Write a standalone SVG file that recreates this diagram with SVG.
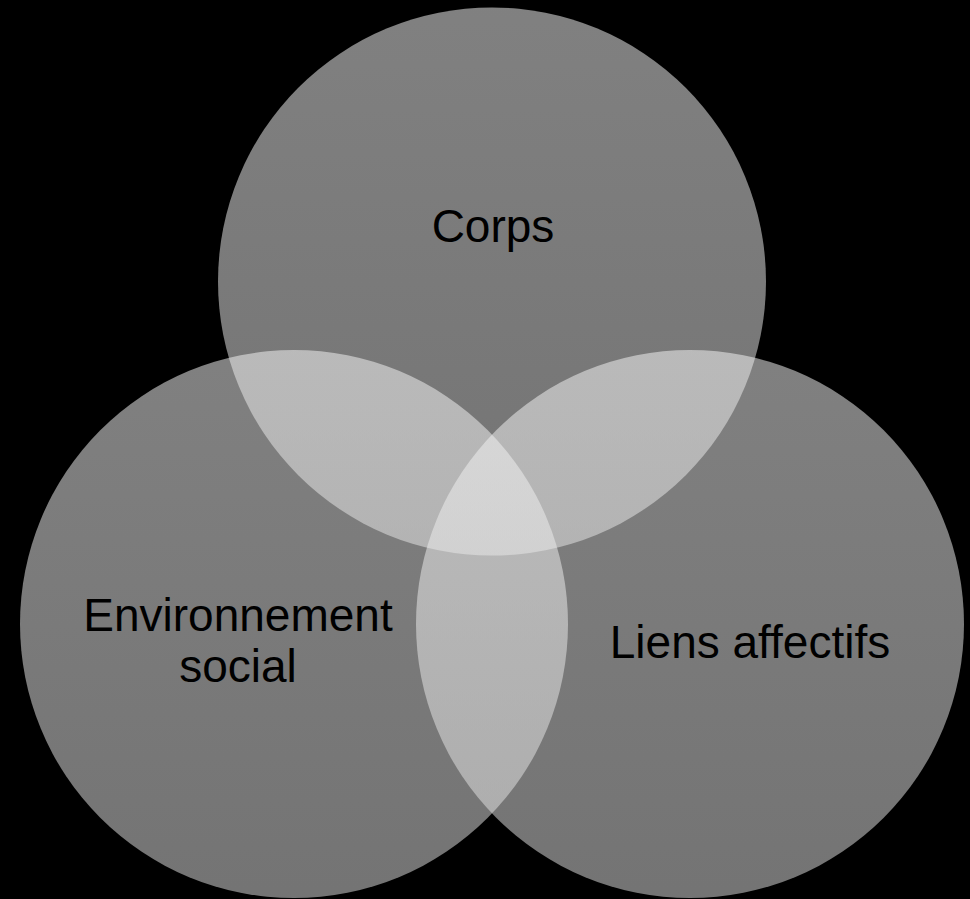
<svg xmlns="http://www.w3.org/2000/svg" width="970" height="899" viewBox="0 0 970 899">
<defs>
<linearGradient id="g" x1="0" y1="0" x2="0" y2="1">
<stop offset="0" stop-color="#f6f6f6"/>
<stop offset="1" stop-color="#dedede"/>
</linearGradient>
<style>
.c{fill:url(#g);fill-opacity:0.52}
.t{font-family:"Liberation Sans",Arial,sans-serif;font-size:46px;fill:#000;text-anchor:middle}
</style>
</defs>
<rect width="970" height="899" fill="#000"/>
<g id="corps">
<circle class="c" cx="492" cy="281.5" r="274"/>
<text class="t" x="493" y="242">Corps</text>
</g>
<g id="environnement">
<circle class="c" cx="294" cy="624" r="274"/>
<text class="t" x="238" y="631">Environnement</text>
<text class="t" x="238" y="682">social</text>
</g>
<g id="liens">
<circle class="c" cx="690" cy="624" r="274"/>
<text class="t" x="750" y="658">Liens affectifs</text>
</g>
<g id="connectors"/>
</svg>
